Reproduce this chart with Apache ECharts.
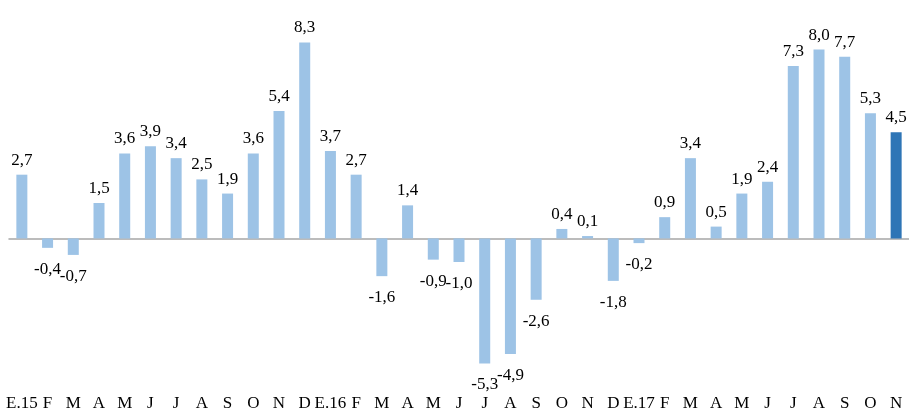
<!DOCTYPE html>
<html>
<head>
<meta charset="utf-8">
<script src="https://cdn.jsdelivr.net/npm/echarts@6/dist/echarts.min.js"></script>
<style>html,body{margin:0;padding:0;background:#fff}#c{width:909px;height:412px}</style>
</head>
<body>
<div id="c"></div>
<script>
const categories = ['E.15','F','M','A','M','J','J','A','S','O','N','D','E.16','F','M','A','M','J','J','A','S','O','N','D','E.17','F','M','A','M','J','J','A','S','O','N'];
const values = [2.7,-0.4,-0.7,1.5,3.6,3.9,3.4,2.5,1.9,3.6,5.4,8.3,3.7,2.7,-1.6,1.4,-0.9,-1.0,-5.3,-4.9,-2.6,0.4,0.1,-1.8,-0.2,0.9,3.4,0.5,1.9,2.4,7.3,8.0,7.7,5.3,4.5];

const FONT = 'Liberation Serif';
const chart = echarts.init(document.getElementById('c'));
const data = values.map((v, i) => ({
  value: v,
  itemStyle: { color: i === values.length - 1 ? '#2E75B6' : '#9DC3E6' },
  label: v < 0 ? { position: 'bottom', distance: 13 } : { position: 'top', distance: 6 }
}));
chart.setOption({
  animation: false,
  grid: { left: 9, right: -3, top: 26, bottom: 31, containLabel: false },
  xAxis: [
    {
      type: 'category', data: categories, position: 'bottom',
      axisLine: { show: false, onZero: false }, axisTick: { show: false },
      axisLabel: { interval: 0, margin: 15, color: '#000', fontFamily: FONT, fontSize: 17 }
    },
    {
      type: 'category', data: categories,
      axisLine: { show: true, onZero: true, lineStyle: { color: '#A6A6A6', width: 1.5 } },
      axisTick: { show: false }, axisLabel: { show: false }
    }
  ],
  yAxis: {
    type: 'value', min: -6, max: 9, show: false,
    splitLine: { show: false }
  },
  series: [{
    type: 'bar', xAxisIndex: 0, data: data, barWidth: 11,
    label: {
      show: true, color: '#000', fontFamily: FONT, fontSize: 17,
      formatter: p => p.value.toFixed(1).replace('.', ',')
    }
  }]
});
</script>
</body>
</html>
